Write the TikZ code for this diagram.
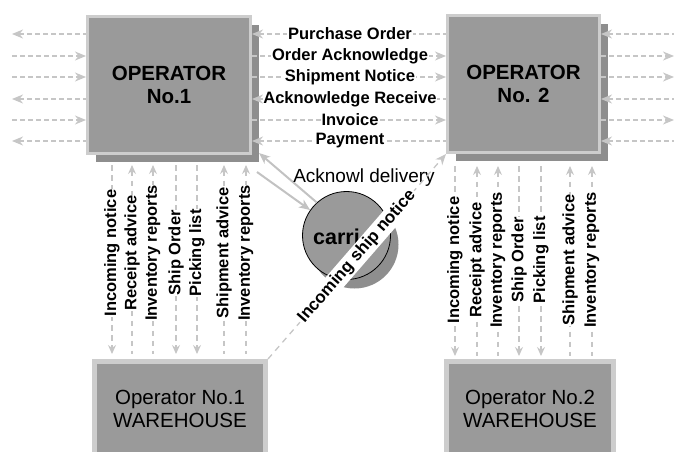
\documentclass[tikz,border=0pt]{standalone}
\usepackage{fontspec}
\setmainfont{Liberation Sans}
\usetikzlibrary{arrows.meta,shadows}
\definecolor{boxfill}{HTML}{9A9A9A}
\definecolor{boxedge}{HTML}{CDCDCD}
\definecolor{shade}{HTML}{8E8E8E}
\definecolor{linec}{HTML}{C6C6C6}
\definecolor{solidc}{HTML}{C2C2C2}
\tikzset{
  opbox/.style={draw=boxedge, line width=3pt, fill=boxfill, inner sep=0pt,
    minimum height=137pt, align=center,
    drop shadow={shadow xshift=8pt, shadow yshift=-8pt, fill=shade, opacity=1},
    font=\fontsize{20.5}{23}\selectfont\bfseries},
  whbox/.style={draw=boxedge, line width=5pt, fill=boxfill, inner sep=0pt,
    minimum height=95pt, align=center, font=\fontsize{20.5}{22.5}\selectfont},
  flow/.style={draw=linec, line width=1.3pt, dash pattern=on 4.5pt off 3.5pt},
  vflow/.style={draw=linec, line width=1.2pt, dash pattern=on 5.5pt off 4.5pt},
  rt/.style={-{Stealth[length=11pt,width=9pt,inset=3.5pt,fill=linec]}},
  lt/.style={{Stealth[length=11pt,width=9pt,inset=3.5pt,fill=linec]}-},
  dn/.style={-{Stealth[length=9pt,width=8pt,inset=3pt,fill=linec]}},
  up/.style={{Stealth[length=9pt,width=8pt,inset=3pt,fill=linec]}-},
  midlab/.style={fill=white, inner sep=0.8pt, font=\fontsize{16.5}{18}\selectfont\bfseries},
  vlab/.style={fill=white, inner sep=0.5pt, rotate=90, font=\fontsize{16.5}{18}\selectfont\bfseries},
  solidarrow/.style={draw=solidc, line width=2pt, -{Stealth[length=11pt,width=9pt,inset=3pt,fill=solidc]}}
}
\begin{document}
\begin{tikzpicture}[x=1pt,y=-1pt]
\useasboundingbox (0,0) rectangle (677,451);
\clip (0,0) rectangle (677,451);

% main boxes
\node[opbox, minimum width=163pt] (op1) at (169,85) {OPERATOR\\No.1};
\node[opbox, minimum width=152pt] (op2) at (523.5,84) {OPERATOR\\No. 2};
\node[whbox, minimum width=171pt] (wh1) at (180,409) {Operator No.1\\WAREHOUSE};
\node[whbox, minimum width=167pt] (wh2) at (530,409) {Operator No.2\\WAREHOUSE};

% carrier circle
\node[circle, draw=black, line width=0.8pt, fill=boxfill, minimum size=88pt, inner sep=0pt,
  drop shadow={shadow xshift=8pt, shadow yshift=-9pt, fill=shade, opacity=1}] (carrier) at (346.5,235.5) {};
\node[anchor=west, inner sep=0pt, font=\fontsize{21.5}{24}\selectfont\bfseries] (carrtxt) at (313,237) {carri};

% horizontal flows
\foreach \yy/\dd [count=\i] in {34/lt,56/rt,77/rt,99/lt,120/rt,141/lt}{
  \coordinate (r\i) at (0,\yy);
  \coordinate (la\i) at (12,\yy);
  \coordinate (rb\i) at (674,\yy);
  \draw[flow,\dd] (la\i) -- (op1.west |- r\i);
  \draw[flow,\dd] (op2.east |- r\i) -- (rb\i);
  \draw[flow,\dd] (op1.east |- r\i) -- (op2.west |- r\i);
}

% vertical flows, operator 1
\foreach \xx/\dd/\tt [count=\i] in {112/dn/Incoming notice,132/up/Receipt advice,153/up/Inventory reports,176/dn/Ship Order,197/dn/Picking list,224/up/Shipment advice,246/up/Inventory reports}{
  \coordinate (at\i) at (\xx,165);
  \coordinate (ab\i) at (\xx,354);
  \draw[vflow,\dd] (at\i) -- (ab\i);
  \node[vlab] (alab\i) at (\xx,253) {\tt};
}
% vertical flows, operator 2
\foreach \xx/\dd/\tt [count=\i] in {455/dn/Incoming notice,477/up/Receipt advice,498/up/Inventory reports,519/dn/Ship Order,541/dn/Picking list,570/up/Shipment advice,592/up/Inventory reports}{
  \coordinate (bt\i) at (\xx,166);
  \coordinate (bb\i) at (\xx,356);
  \draw[vflow,\dd] (bt\i) -- (bb\i);
  \node[vlab] (blab\i) at (\xx,260) {\tt};
}

% middle labels
\node[midlab] (m1) at (350,34) {Purchase Order};
\node[midlab] (m2) at (350,56) {Order Acknowledge};
\node[midlab] (m3) at (350,77) {Shipment Notice};
\node[midlab] (m4) at (350,99) {Acknowledge Receive};
\node[midlab] (m5) at (350,120) {Invoice};
\node[midlab] (m6) at (350,141) {Payment};

% carrier links
\coordinate (c1) at (259,153);
\coordinate (c2) at (257,172);
\draw[solidarrow] (carrier.132) -- (c1);
\draw[solidarrow] (c2) -- (carrier.145);
\node[inner sep=1pt, font=\fontsize{19}{21}\selectfont] (ackd) at (364,178) {Acknowl delivery};

% diagonal incoming ship notice
\draw[flow, dash pattern=on 6pt off 5pt, rt] (wh1.north east) -- (op2.south west);
\path (wh1.north east) -- (op2.south west)
  node[midway, sloped, fill=white, inner sep=2pt, font=\fontsize{17}{19}\selectfont\bfseries] (isn) {Incoming ship notice};
\end{tikzpicture}
\end{document}
